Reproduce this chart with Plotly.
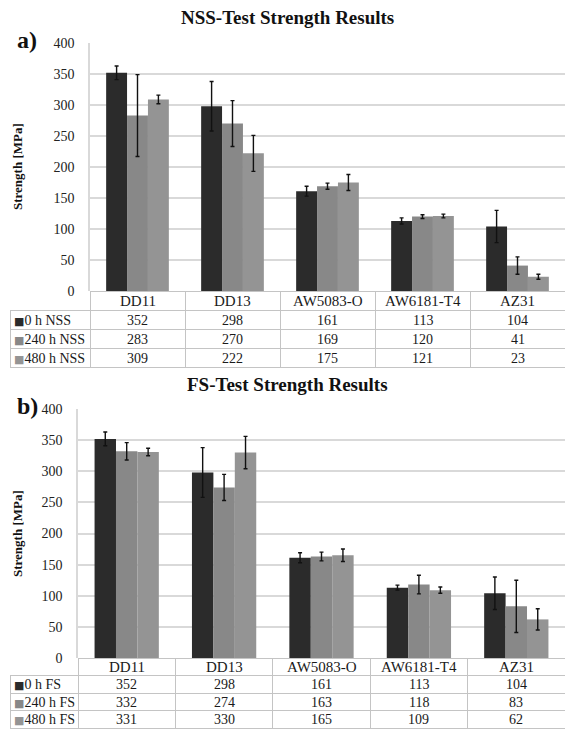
import plotly.graph_objects as go

W, H = 565, 731

categories = ["DD11", "DD13", "AW5083-O", "AW6181-T4", "AZ31"]

nss_labels = ["0 h NSS", "240 h NSS", "480 h NSS"]
nss_0 = [352, 298, 161, 113, 104]
nss_240 = [283, 270, 169, 120, 41]
nss_480 = [309, 222, 175, 121, 23]
nss_0_err = [11, 40, 8, 5, 26]
nss_240_err = [66, 37, 5, 3, 14]
nss_480_err = [7, 29, 13, 3, 4]

fs_labels = ["0 h FS", "240 h FS", "480 h FS"]
fs_0 = [352, 298, 161, 113, 104]
fs_240 = [332, 274, 163, 118, 83]
fs_480 = [331, 330, 165, 109, 62]
fs_0_err = [11, 40, 8, 4, 26]
fs_240_err = [14, 21, 7, 15, 42]
fs_480_err = [6, 26, 10, 5, 17]

y_ticks = [0, 50, 100, 150, 200, 250, 300, 350, 400]

colors = ["#2b2b2b", "#888888", "#949494"]
FONT = "Liberation Serif"
GRID = "#d9d9d9"
LINE = "#c4c4c4"
TXT = "#1a1a1a"


def px_x(x):
    return min(1.0, max(0.0, x / W))


def px_y(y):
    return min(1.0, max(0.0, 1 - y / H))


fig = go.Figure()

panels = [
    dict(labels=nss_labels, series=[nss_0, nss_240, nss_480],
         errs=[nss_0_err, nss_240_err, nss_480_err],
         xa="x", ya="y", left=90, top=43, bottom=291,
         row_h=19, title="NSS-Test Strength Results",
         title_y=17, tag="a)", tag_y=40, ylab_y=167),
    dict(labels=fs_labels, series=[fs_0, fs_240, fs_480],
         errs=[fs_0_err, fs_240_err, fs_480_err],
         xa="x2", ya="y2", left=78, top=409, bottom=658,
         row_h=17.5, title="FS-Test Strength Results",
         title_y=384, tag="b)", tag_y=406, ylab_y=534),
]

annotations = []
for p in panels:
    for name, vals, err, col in zip(p["labels"], p["series"], p["errs"], colors):
        fig.add_trace(go.Bar(
            x=categories, y=vals, name=name, marker=dict(color=col, line=dict(width=0)),
            error_y=dict(type="data", array=err, visible=True, color="#111111",
                         thickness=1.4, width=2),
            xaxis=p["xa"], yaxis=p["ya"], showlegend=False,
        ))
    n = len(categories)
    cat_w = (W - p["left"]) / n
    tab_bottom = min(H, p["bottom"] + 4 * p["row_h"] + 3)
    # table grid (cell borders); texts are placed as centred annotations below
    fig.add_trace(go.Table(
        domain=dict(x=[px_x(10), 1.0], y=[px_y(tab_bottom), px_y(p["bottom"])]),
        columnwidth=[p["left"] - 10] + [cat_w] * n,
        header=dict(values=[""] * (n + 1),
                    line=dict(color=["rgba(0,0,0,0)"] + [LINE] * n, width=1),
                    fill=dict(color=["rgba(0,0,0,0)"] + ["white"] * n),
                    height=p["row_h"]),
        cells=dict(values=[[""] * len(p["labels"])] * (n + 1),
                   line=dict(color=LINE, width=1),
                   fill=dict(color="white"), height=p["row_h"]),
    ))
    xref = p["xa"]
    for c in categories:
        annotations.append(dict(
            text=c, x=c, y=px_y(p["bottom"] + p["row_h"] * 0.5 + 0.5),
            xref=xref, yref="paper", showarrow=False, xanchor="center", yanchor="middle",
            font=dict(family=FONT, size=15, color=TXT)))
    for r, (lab, col, vals) in enumerate(zip(p["labels"], colors, p["series"])):
        yc = px_y(p["bottom"] + p["row_h"] * (r + 1.5) + 0.5)
        annotations.append(dict(
            text=f"<span style='font-family:DejaVu Sans;font-size:11px;color:{col}'>■</span>{lab}",
            x=px_x(12), y=yc, xref="paper", yref="paper",
            showarrow=False, xanchor="left", yanchor="middle",
            font=dict(family=FONT, size=14, color=TXT)))
        for c, v in zip(categories, vals):
            annotations.append(dict(
                text=str(v), x=c, y=yc, xref=xref, yref="paper", showarrow=False,
                xanchor="center", yanchor="middle",
                font=dict(family=FONT, size=14, color=TXT)))
    annotations.append(dict(text=f"<b>{p['title']}</b>", x=px_x(287), y=px_y(p["title_y"]),
                            xref="paper", yref="paper", showarrow=False,
                            xanchor="center", yanchor="middle",
                            font=dict(family=FONT, size=19, color="#111111")))
    annotations.append(dict(text=f"<b>{p['tag']}</b>", x=px_x(27), y=px_y(p["tag_y"]),
                            xref="paper", yref="paper", showarrow=False,
                            xanchor="center", yanchor="middle",
                            font=dict(family=FONT, size=24, color="#111111")))
    annotations.append(dict(text="<b>Strength [MPa]</b>", x=px_x(17), y=px_y(p["ylab_y"]),
                            xref="paper", yref="paper", showarrow=False, textangle=-90,
                            xanchor="center", yanchor="middle",
                            font=dict(family=FONT, size=13, color="#111111")))

axis_common = dict(showgrid=False, showticklabels=False, ticks="", showline=False,
                   zeroline=False, fixedrange=True, automargin=False)
yaxis_common = dict(range=[0, 400], tickvals=y_ticks, showgrid=True, gridcolor=GRID,
                    gridwidth=1.5, showline=True, linecolor=GRID, linewidth=1.5,
                    zeroline=False, ticks="", ticklabelstandoff=11, automargin=False,
                    fixedrange=True,
                    tickfont=dict(family=FONT, size=14, color="#222222"))

fig.update_layout(
    template="none",
    width=W, height=H, margin=dict(l=0, r=0, t=0, b=0, pad=0, autoexpand=False),
    paper_bgcolor="white", plot_bgcolor="white",
    barmode="group", bargap=0.34, bargroupgap=0,
    font=dict(family=FONT),
    xaxis=dict(domain=[px_x(90), 1.0], anchor="y", **axis_common),
    yaxis=dict(domain=[px_y(291), px_y(43)], anchor="x", **yaxis_common),
    xaxis2=dict(domain=[px_x(78), 1.0], anchor="y2", **axis_common),
    yaxis2=dict(domain=[px_y(658), px_y(409)], anchor="x2", **yaxis_common),
    annotations=annotations,
)

fig.write_html("out.html", config={"displayModeBar": False},
               post_script="document.body.style.margin='0';")
